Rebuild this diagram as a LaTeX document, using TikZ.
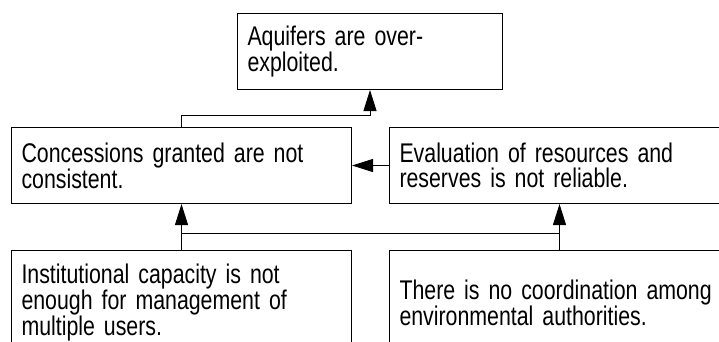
\documentclass[tikz,border=0pt]{standalone}
\usepackage{fontspec}
\setmainfont[FakeStretch=0.79]{Liberation Sans}
\usetikzlibrary{arrows.meta}

\begin{document}
\begin{tikzpicture}[x=1pt,y=-1pt,
  box/.style={draw=black, line width=1pt, anchor=north west, align=left,
    inner xsep=10pt, inner ysep=0pt, font=\fontsize{27}{25}\selectfont},
  wide/.style={box, text width=320pt, minimum height=76pt},
  tall/.style={box, text width=320pt, minimum height=104pt},
  arr/.style={line width=1pt, -{Triangle[length=21pt,width=13pt]}},
  link/.style={line width=1pt}]
\useasboundingbox (0,0) rectangle (719,341);
\clip (0,0) rectangle (719,341);

% effect at the top
\node[box, text width=245pt, minimum height=76pt] (aquifer) at (237,13)
  {Aquifers are over-\\exploited.};

% middle row
\node[wide] (consist) at (11,127)
  {Concessions granted are not\\consistent.};
\node[wide] (eval) at (389,127)
  {Evaluation of resources and\\reserves is not reliable.};

% causes at the bottom
\node[tall] (inst) at (11,250)
  {Institutional capacity is not\\enough for management of\\multiple users.};
\node[tall] (coord) at (389,250)
  {There is no coordination among\\environmental authorities.};

% connectors
\draw[arr] (consist.north) -- ++(0,-12) -| (aquifer.south);
\draw[arr] (eval.west) -- (consist.east);
\draw[arr] (inst.north) -- (consist.south);
\draw[arr] (coord.north) -- (eval.south);
\coordinate (junction) at (0,233);
\draw[link] (inst.north |- junction) -- (coord.north |- junction);
\end{tikzpicture}
\end{document}
